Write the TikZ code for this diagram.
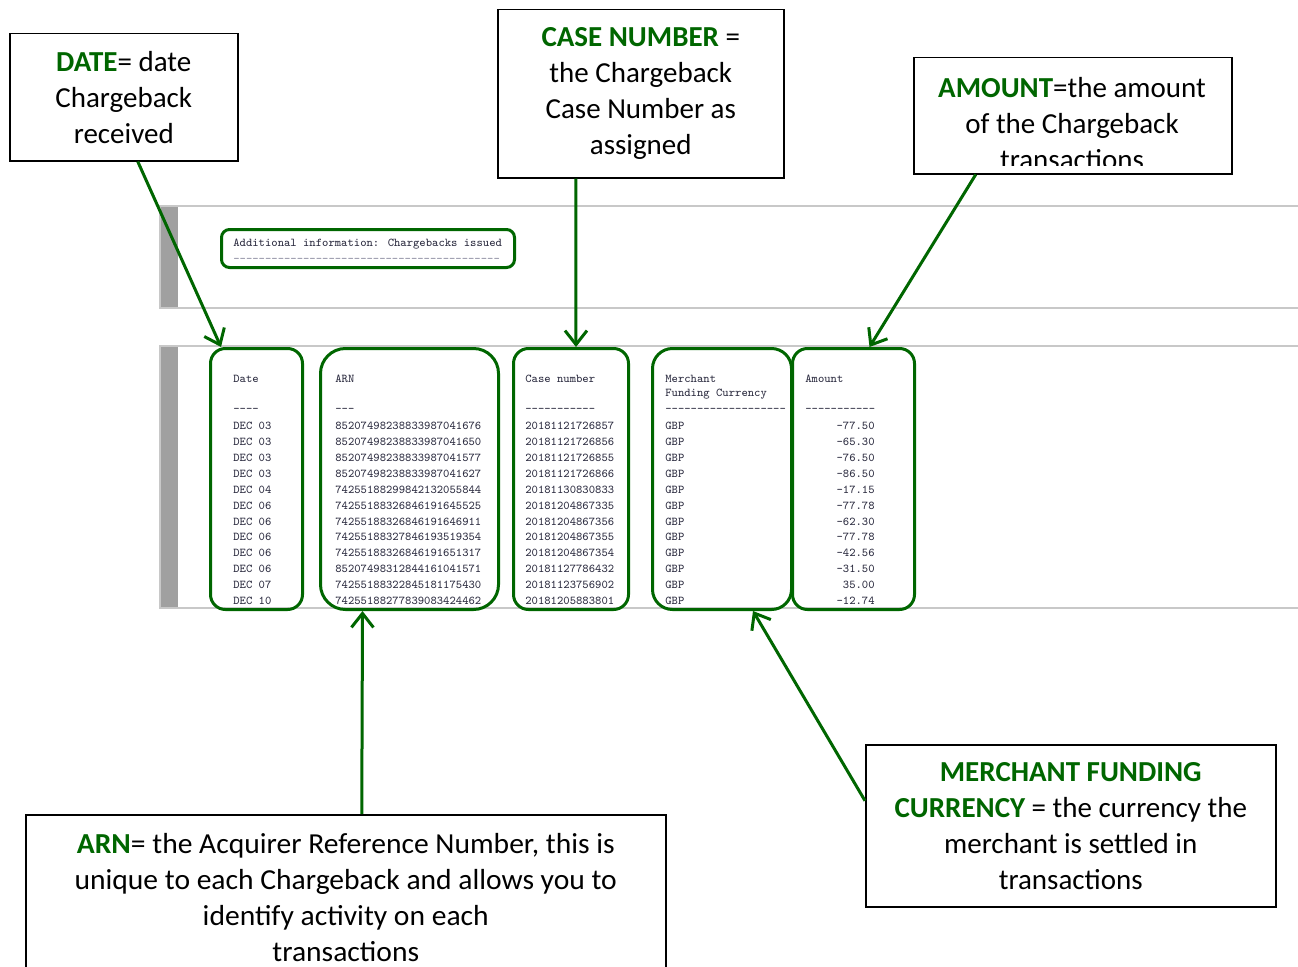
\documentclass[tikz,border=0pt]{standalone}
\usepackage{fontspec}
\setmainfont{Carlito}
\newfontfamily\arnfont{Carlito}[FakeStretch=1.02]
\usetikzlibrary{calc,arrows.meta}
\definecolor{labelgreen}{RGB}{0,102,0}
\definecolor{panelgray}{RGB}{200,200,200}
\definecolor{bargray}{RGB}{160,160,160}
\definecolor{monogray}{RGB}{45,45,65}
\definecolor{dashgray}{RGB}{140,140,160}
\newcommand{\green}[1]{\textbf{\textcolor{labelgreen}{#1}}}

\begin{document}
\begin{tikzpicture}[x=0.2mm,y=-0.2mm,
  calloutbox/.style={draw=black,line width=0.3mm,fill=white,anchor=north west,inner sep=0pt,align=center,font=\fontsize{16.5}{20.5}\selectfont},
  callouttext/.style={inner sep=0pt,align=center,font=\fontsize{16.5}{20.5}\selectfont},
  colbox/.style={draw=labelgreen,line width=0.6mm,anchor=north west,minimum height=52.2mm,rounded corners=3mm},
  pointer/.style={draw=labelgreen,line width=0.6mm,-{Straight Barb[length=2.8mm,width=4.4mm]}},
  datatext/.style={inner sep=0pt,anchor=west,text=monogray,font=\ttfamily\fontsize{6.8}{8}\selectfont}]
\useasboundingbox (0,0) rectangle (1298,967);
\clip (0,0) rectangle (1298,967);
% Panel superior
\draw[panelgray,line width=0.4mm] (160,206) rectangle (1310,308);
\fill[bargray] (161,207) rectangle (178,307);
% Panel inferior
\draw[panelgray,line width=0.4mm] (160,346) rectangle (1310,608);
\fill[bargray] (161,347) rectangle (178,607);
% Additional information
\node[datatext] (infotitle) at (233,244) {Additional information: Chargebacks issued};
\node[datatext,text=dashgray] (infodash) at (233,260) {------------------------------------------};
\node[draw=labelgreen,line width=0.6mm,anchor=north west,minimum width=58.6mm,minimum height=7.6mm,rounded corners=1.6mm] (infobox) at (220,228) {};
% Cabeceras
\node[datatext] (datehead) at (233,379) {Date};
\node[datatext] (arnhead) at (335,379) {ARN};
\node[datatext] (casehead) at (525,379) {Case number};
\node[datatext] (curhead) at (665,379) {Merchant};
\node[datatext] (curhead2) at (665,394) {Funding Currency};
\node[datatext] (amthead) at (805,379) {Amount};
\node[datatext] (datedash) at (233,410) {----};
\node[datatext] (arndash) at (335,410) {---};
\node[datatext] (casedash) at (525,410) {-----------};
\node[datatext] (curdash) at (665,410) {-------------------};
\node[datatext] (amtdash) at (805,410) {-----------};
% Filas
\foreach \dd/\arn/\cn/\amt [count=\i from 0] in {
  DEC 03/85207498238833987041676/20181121726857/-77.50,
  DEC 03/85207498238833987041650/20181121726856/-65.30,
  DEC 03/85207498238833987041577/20181121726855/-76.50,
  DEC 03/85207498238833987041627/20181121726866/-86.50,
  DEC 04/74255188299842132055844/20181130830833/-17.15,
  DEC 06/74255188326846191645525/20181204867335/-77.78,
  DEC 06/74255188326846191646911/20181204867356/-62.30,
  DEC 06/74255188327846193519354/20181204867355/-77.78,
  DEC 06/74255188326846191651317/20181204867354/-42.56,
  DEC 06/85207498312844161041571/20181127786432/-31.50,
  DEC 07/74255188322845181175430/20181123756902/35.00,
  DEC 10/74255188277839083424462/20181205883801/-12.74}{
  \node[datatext] (date\i) at (233,{426+15.9*\i}) {\dd};
  \node[datatext] (arn\i) at (335,{426+15.9*\i}) {\arn};
  \node[datatext] (case\i) at (525,{426+15.9*\i}) {\cn};
  \node[datatext] (cur\i) at (665,{426+15.9*\i}) {GBP};
  \node[datatext,anchor=east] (amt\i) at (875,{426+15.9*\i}) {\amt};
}
% Columnas
\node[colbox,minimum width=18.4mm] (datecol) at (209,347) {};
\node[colbox,minimum width=35.6mm,rounded corners=5mm] (arncol) at (319,347) {};
\node[colbox,minimum width=23mm] (casecol) at (512,347) {};
\node[colbox,minimum width=27.8mm,rounded corners=4mm] (curcol) at (651,347) {};
\node[colbox,minimum width=24.4mm] (amtcol) at (791,347) {};
% Recuadro DATE
\node[calloutbox,minimum width=45.6mm,minimum height=25.4mm] (datebox) at (9,33) {\green{DATE}= date\\Chargeback\\received};
% Recuadro CASE NUMBER
\node[calloutbox,minimum width=57.2mm,minimum height=33.6mm] (casebox) at (497,9) {\green{CASE NUMBER} =\\the Chargeback\\Case Number as\\assigned};
% Recuadro AMOUNT
\node[calloutbox,minimum width=63.6mm,minimum height=23.2mm] (amtbox) at (913,57) {};
\begin{scope}
\clip (913,57) rectangle (1231,166);
\node[callouttext] (amttext) at (1072,124) {\green{AMOUNT}=the amount\\of the Chargeback\\transactions};
\end{scope}
% Recuadro ARN
\node[calloutbox,minimum width=128mm,minimum height=33mm,font={\arnfont\fontsize{16.5}{20.5}\selectfont}] (arnbox) at (25,814) {\green{ARN}= the Acquirer Reference Number, this is\\unique to each Chargeback and allows you to\\identify activity on each\\transactions};
% Recuadro MERCHANT FUNDING CURRENCY
\node[calloutbox,minimum width=82mm,minimum height=32.4mm] (curbox) at (865,744) {\green{MERCHANT FUNDING}\\\green{CURRENCY} = the currency the\\merchant is settled in\\transactions};
% Flechas
\draw[pointer] ($(datebox.south)+(14,0)$) -- ($(datecol.north west)+(12,0)$);
\draw[pointer] ($(casebox.south)+(-65,0)$) -- ($(casecol.north)+(5,0)$);
\draw[pointer] ($(amtbox.south)+(-97,0)$) -- ($(amtcol.north)+(16,0)$);
\draw[pointer] ($(arnbox.north)+(16,0)$) -- ($(arncol.south)+(-47,0)$);
\draw[pointer] ($(curbox.west)+(0,-25)$) -- ($(curcol.south)+(31,0)$);
\end{tikzpicture}
\end{document}
